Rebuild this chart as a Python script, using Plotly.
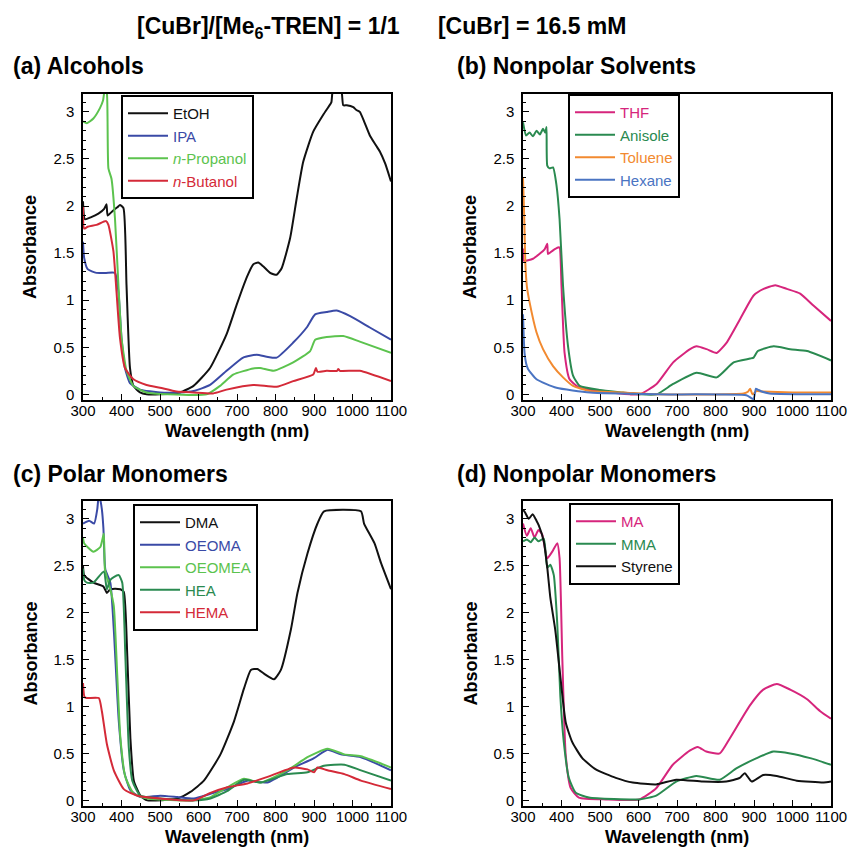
import plotly.graph_objects as go

# ---------------- data ----------------
# (a) Alcohols
etoh_nm = [300, 305, 320, 340, 355, 361, 364, 375, 390, 396, 405, 413, 422, 431, 448, 465, 500, 552, 587, 630, 673, 699, 725, 742, 755, 768, 786, 803, 816, 838, 855, 872, 898, 924, 937, 945, 950, 970, 976, 985, 1002, 1010, 1019, 1030, 1045, 1060, 1071, 1085, 1100]
etoh_abs = [2.05, 1.86, 1.88, 1.92, 1.97, 2.02, 1.9, 1.94, 1.99, 2.01, 1.98, 1.16, 0.28, 0.09, 0.02, 0.0, 0.0, 0.02, 0.09, 0.28, 0.64, 0.95, 1.24, 1.38, 1.40, 1.36, 1.29, 1.27, 1.34, 1.66, 2.08, 2.47, 2.79, 2.97, 3.05, 3.10, 3.25, 3.25, 3.07, 3.07, 3.05, 3.02, 3.0, 2.9, 2.75, 2.65, 2.58, 2.45, 2.26]
ipa_nm = [300, 303, 312, 335, 360, 383, 392, 400, 409, 422, 448, 500, 550, 587, 630, 673, 716, 751, 777, 803, 846, 881, 903, 933, 959, 994, 1045, 1100]
ipa_abs = [1.62, 1.45, 1.33, 1.29, 1.29, 1.29, 1.09, 0.60, 0.28, 0.12, 0.05, 0.02, 0.02, 0.035, 0.10, 0.25, 0.39, 0.42, 0.40, 0.39, 0.55, 0.71, 0.85, 0.875, 0.89, 0.83, 0.71, 0.58]
nprop_nm = [300, 310, 327, 344, 352, 357, 362, 366, 374, 383, 392, 400, 413, 431, 465, 520, 621, 656, 690, 742, 760, 795, 846, 890, 903, 933, 976, 1019, 1100]
nprop_abs = [2.9, 2.88, 2.93, 3.04, 3.12, 3.25, 3.2, 2.4, 2.29, 1.87, 1.16, 0.60, 0.25, 0.09, 0.02, 0.0, 0.0, 0.09, 0.21, 0.275, 0.28, 0.25, 0.34, 0.46, 0.58, 0.61, 0.62, 0.56, 0.44]
nbut_nm = [300, 303, 312, 335, 360, 366, 379, 387, 396, 409, 431, 465, 500, 543, 587, 638, 673, 742, 803, 846, 898, 905, 909, 933, 960, 963, 967, 1019, 1100]
nbut_abs = [2.0, 1.76, 1.78, 1.8, 1.84, 1.80, 1.52, 1.09, 0.60, 0.28, 0.16, 0.10, 0.07, 0.03, 0.02, 0.01, 0.05, 0.10, 0.08, 0.14, 0.21, 0.28, 0.24, 0.25, 0.25, 0.27, 0.25, 0.25, 0.14]

# (b) Nonpolar solvents
thf_nm = [300, 302, 326, 356, 363, 365, 378, 391, 395, 400, 408, 421, 447, 500, 578, 604, 647, 690, 734, 751, 777, 803, 829, 864, 899, 925, 955, 985, 1020, 1055, 1100]
thf_abs = [1.55, 1.42, 1.44, 1.54, 1.60, 1.49, 1.53, 1.56, 1.56, 1.15, 0.44, 0.16, 0.07, 0.035, 0.0, 0.0, 0.11, 0.34, 0.48, 0.51, 0.48, 0.44, 0.55, 0.80, 1.05, 1.12, 1.16, 1.12, 1.07, 0.94, 0.78]
anis_nm = [300, 308, 317, 326, 335, 344, 352, 358, 361, 363, 369, 378, 387, 395, 404, 417, 430, 447, 500, 560, 604, 647, 690, 751, 803, 847, 890, 899, 910, 951, 994, 1038, 1100]
anis_abs = [2.89, 2.75, 2.78, 2.74, 2.80, 2.76, 2.82, 2.78, 2.84, 2.43, 2.40, 2.41, 2.22, 1.86, 1.15, 0.51, 0.20, 0.09, 0.046, 0.02, 0.0, 0.0, 0.11, 0.23, 0.18, 0.34, 0.38, 0.39, 0.46, 0.51, 0.48, 0.46, 0.36]
tol_nm = [300, 303, 306, 310, 317, 335, 352, 378, 404, 430, 474, 560, 647, 873, 885, 890, 896, 907, 920, 1000, 1100]
tol_abs = [2.3, 1.9, 1.4, 1.15, 0.98, 0.66, 0.48, 0.30, 0.18, 0.09, 0.035, 0.02, 0.0, 0.01, 0.03, 0.06, 0.0, 0.035, 0.03, 0.02, 0.02]
hex_nm = [300, 302, 304, 308, 313, 335, 387, 474, 647, 880, 893, 899, 905, 910, 920, 940, 1100]
hex_abs = [0.85, 0.6, 0.44, 0.33, 0.27, 0.16, 0.07, 0.02, 0.0, -0.01, -0.04, -0.05, 0.06, 0.05, 0.03, 0.01, 0.0]

# (c) Polar monomers
dma_nm = [300, 303, 327, 353, 362, 371, 397, 406, 415, 423, 432, 449, 467, 545, 579, 614, 657, 692, 718, 736, 753, 770, 796, 814, 840, 857, 883, 909, 926, 1022, 1030, 1057, 1074, 1100]
dma_abs = [2.5, 2.4, 2.32, 2.28, 2.21, 2.25, 2.25, 2.22, 1.54, 0.67, 0.21, 0.05, 0.0, 0.02, 0.09, 0.21, 0.49, 0.84, 1.19, 1.39, 1.40, 1.35, 1.29, 1.39, 1.82, 2.21, 2.63, 2.95, 3.08, 3.08, 2.95, 2.74, 2.53, 2.25]
oeoma_nm = [300, 316, 329, 337, 341, 345, 349, 353, 358, 371, 380, 393, 406, 423, 449, 501, 545, 588, 631, 675, 727, 779, 848, 900, 935, 970, 1022, 1100]
oeoma_abs = [2.95, 2.98, 2.95, 3.1, 3.25, 3.2, 3.1, 2.9, 2.46, 2.32, 1.82, 0.84, 0.32, 0.11, 0.035, 0.05, 0.035, 0.02, 0.07, 0.12, 0.21, 0.19, 0.35, 0.45, 0.54, 0.49, 0.46, 0.32]
oeomea_nm = [300, 303, 327, 345, 354, 357, 371, 380, 389, 397, 410, 432, 467, 588, 631, 675, 718, 762, 831, 883, 935, 979, 1022, 1100]
oeomea_abs = [2.8, 2.74, 2.65, 2.7, 2.84, 2.46, 2.25, 2.07, 1.33, 0.67, 0.25, 0.07, 0.02, 0.0, 0.035, 0.14, 0.23, 0.19, 0.32, 0.46, 0.55, 0.49, 0.47, 0.35]
hea_nm = [300, 303, 310, 327, 354, 362, 371, 380, 393, 402, 410, 419, 428, 449, 501, 588, 631, 675, 718, 762, 831, 883, 926, 979, 1022, 1100]
hea_abs = [2.47, 2.35, 2.32, 2.32, 2.44, 2.25, 2.35, 2.38, 2.4, 2.32, 1.54, 0.56, 0.21, 0.05, 0.02, 0.0, 0.02, 0.10, 0.22, 0.19, 0.28, 0.30, 0.37, 0.38, 0.32, 0.21]
hema_nm = [300, 304, 310, 341, 349, 362, 380, 406, 441, 501, 588, 631, 675, 727, 779, 848, 883, 900, 909, 935, 979, 1022, 1100]
hema_abs = [1.25, 1.1, 1.09, 1.09, 0.95, 0.60, 0.32, 0.12, 0.05, 0.02, 0.0, 0.08, 0.14, 0.18, 0.25, 0.35, 0.33, 0.30, 0.35, 0.32, 0.28, 0.21, 0.12]

# (d) Nonpolar monomers
ma_nm = [300, 310, 320, 330, 340, 350, 363, 376, 389, 395, 402, 411, 424, 445, 515, 602, 646, 689, 733, 754, 776, 811, 837, 889, 924, 959, 994, 1037, 1072, 1100]
ma_abs = [2.95, 2.82, 2.9, 2.8, 2.88, 2.83, 2.58, 2.65, 2.74, 2.58, 1.53, 0.48, 0.13, 0.03, 0.01, 0.01, 0.13, 0.38, 0.53, 0.57, 0.52, 0.50, 0.66, 1.01, 1.18, 1.24, 1.18, 1.08, 0.95, 0.87]
mma_nm = [300, 310, 320, 330, 340, 354, 363, 371, 380, 389, 397, 406, 419, 437, 471, 602, 646, 698, 750, 811, 854, 907, 950, 994, 1046, 1100]
mma_abs = [2.76, 2.78, 2.75, 2.8, 2.76, 2.79, 2.48, 2.51, 2.40, 1.88, 1.11, 0.62, 0.24, 0.08, 0.03, 0.01, 0.05, 0.20, 0.26, 0.22, 0.34, 0.45, 0.52, 0.50, 0.45, 0.38]
sty_nm = [300, 305, 315, 325, 335, 341, 354, 363, 371, 384, 397, 411, 428, 454, 489, 541, 585, 646, 698, 767, 828, 863, 876, 894, 924, 959, 1011, 1081, 1100]
sty_abs = [3.1, 3.07, 3.0, 3.05, 2.98, 2.93, 2.76, 2.48, 2.16, 1.81, 1.32, 0.83, 0.62, 0.45, 0.33, 0.24, 0.19, 0.17, 0.22, 0.20, 0.20, 0.24, 0.29, 0.20, 0.27, 0.26, 0.21, 0.19, 0.20]

y_ticks = [0, 0.5, 1, 1.5, 2, 2.5, 3]
y_ticktext = ["0", "0.5", "1", "1.5", "2", "2.5", "3"]
x_ticks = [300, 400, 500, 600, 700, 800, 900, 1000, 1100]

# ---------------- styling ----------------
FONT = "Liberation Sans, Arial, sans-serif"
BLACK = "#111111"
BLUE = "#3a4aa6"
LGREEN = "#5cc34e"
RED = "#d42a38"
PINK = "#d6257c"
DGREEN = "#2a8a50"
ORANGE = "#f28a30"
HBLUE = "#4a74c2"

fig = go.Figure()

def label(txt, col):
    return f"<span style='color:{col}'>{txt}</span>"

panels = [
    ("x", "y", "legend", [
        (etoh_nm, etoh_abs, "EtOH", BLACK),
        (ipa_nm, ipa_abs, "IPA", BLUE),
        (nprop_nm, nprop_abs, "<i>n</i>-Propanol", LGREEN),
        (nbut_nm, nbut_abs, "<i>n</i>-Butanol", RED),
    ]),
    ("x2", "y2", "legend2", [
        (thf_nm, thf_abs, "THF", PINK),
        (anis_nm, anis_abs, "Anisole", DGREEN),
        (tol_nm, tol_abs, "Toluene", ORANGE),
        (hex_nm, hex_abs, "Hexane", HBLUE),
    ]),
    ("x3", "y3", "legend3", [
        (dma_nm, dma_abs, "DMA", BLACK),
        (oeoma_nm, oeoma_abs, "OEOMA", BLUE),
        (oeomea_nm, oeomea_abs, "OEOMEA", LGREEN),
        (hea_nm, hea_abs, "HEA", DGREEN),
        (hema_nm, hema_abs, "HEMA", RED),
    ]),
    ("x4", "y4", "legend4", [
        (ma_nm, ma_abs, "MA", PINK),
        (mma_nm, mma_abs, "MMA", DGREEN),
        (sty_nm, sty_abs, "Styrene", BLACK),
    ]),
]

for xa, ya, lg, series in panels:
    for nm, ab, name, col in series:
        fig.add_trace(go.Scatter(
            x=nm, y=ab, mode="lines", name=label(name, col),
            line=dict(color=col, width=2, shape="spline", smoothing=0.5),
            xaxis=xa, yaxis=ya, legend=lg,
        ))

def xaxis(domain, anchor):
    return dict(
        domain=domain, anchor=anchor, range=[300, 1100], automargin=False,
        tickvals=x_ticks, ticks="inside", ticklen=6, tickwidth=1.2, tickcolor="black",
        minor=dict(dtick=50, tick0=300, ticks="inside", ticklen=3, tickcolor="black"),
        showline=True, linecolor="black", linewidth=1.5, mirror=True,
        showgrid=False, zeroline=False, ticklabelstandoff=-4,
        tickfont=dict(family=FONT, size=15, color="black"),
    )

def yaxis(domain, anchor):
    return dict(
        domain=domain, anchor=anchor, range=[-0.06, 3.19], automargin=False,
        tickvals=y_ticks, ticktext=y_ticktext,
        ticks="inside", ticklen=6, tickwidth=1.2, tickcolor="black",
        minor=dict(dtick=0.1, tick0=0, ticks="inside", ticklen=3, tickcolor="black"),
        showline=True, linecolor="black", linewidth=1.5, mirror=True,
        showgrid=False, zeroline=False, ticklabelstandoff=4,
        tickfont=dict(family=FONT, size=15, color="black"),
    )

W, H = 850, 853
def px(x): return x / W
def py(y): return 1 - y / H

top_dom = [py(400), py(94)]
bot_dom = [py(806), py(501)]
left_dom = [px(83), px(391)]
right_dom = [px(523), px(831)]

def legend(x, y):
    return dict(
        x=px(x), y=py(y), xanchor="left", yanchor="top", xref="paper", yref="paper",
        bgcolor="white", bordercolor="black", borderwidth=2,
        font=dict(family=FONT, size=15, color="black"),
        tracegroupgap=0, itemwidth=40,
    )

def note(text, x, y, size, xanchor="left", angle=0):
    return dict(text=text, x=px(x), y=py(y), xref="paper", yref="paper",
                xanchor=xanchor, yanchor="middle", showarrow=False, textangle=angle,
                font=dict(family=FONT, size=size, color="black"))

gap = "\u00a0" * 6
annotations = [
    note(f"<b>[CuBr]/[Me<sub>6</sub>-TREN] = 1/1{gap}[CuBr] = 16.5 mM</b>", 381, 27, 23, "center"),
    note("<b>(a) Alcohols</b>", 11, 66, 23),
    note("<b>(b) Nonpolar Solvents</b>", 455, 66, 23),
    note("<b>(c) Polar Monomers</b>", 11, 474, 23),
    note("<b>(d) Nonpolar Monomers</b>", 455, 474, 23),
]
for xc, ytop, ybot in [(237, 94, 400), (677, 94, 400), (237, 501, 806), (677, 501, 806)]:
    annotations.append(note("<b>Wavelength (nm)</b>", xc, ybot + 31, 18, "center"))
for xc, ytop, ybot in [(30, 94, 400), (470, 94, 400), (30, 501, 806), (470, 501, 806)]:
    annotations.append(note("<b>Absorbance</b>", xc, (ytop + ybot) / 2, 18, "center", -90))

fig.update_layout(
    width=W, height=H,
    margin=dict(l=0, r=0, t=0, b=0),
    paper_bgcolor="white", plot_bgcolor="white",
    xaxis=xaxis(left_dom, "y"), yaxis=yaxis(top_dom, "x"),
    xaxis2=xaxis(right_dom, "y2"), yaxis2=yaxis(top_dom, "x2"),
    xaxis3=xaxis(left_dom, "y3"), yaxis3=yaxis(bot_dom, "x3"),
    xaxis4=xaxis(right_dom, "y4"), yaxis4=yaxis(bot_dom, "x4"),
    legend=legend(121, 95), legend2=legend(568, 94),
    legend3=legend(133, 504), legend4=legend(569, 503),
    annotations=annotations,
)

# the page body has a default 8px margin; remove it so the figure fills the window
fig.write_html("out.html", config={"displayModeBar": False},
               post_script="document.body.style.margin='0';document.body.style.overflow='hidden';")
